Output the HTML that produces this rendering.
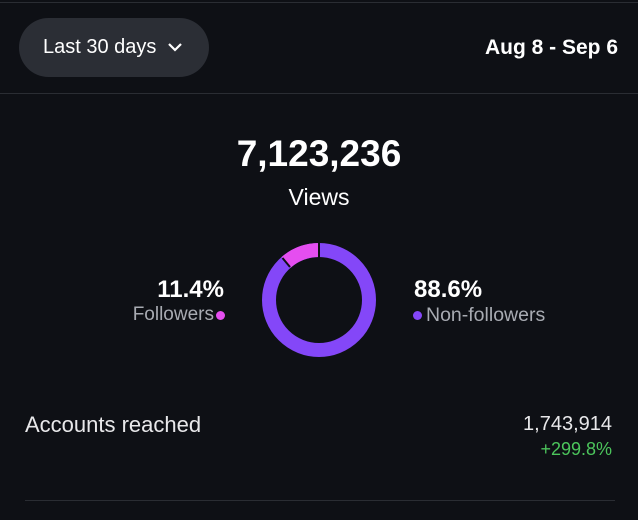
<!DOCTYPE html>
<html><head><style>
body{margin:0;width:638px;height:520px;background:#0e1015;font-family:"Liberation Sans",sans-serif;color:#fff;position:relative;overflow:hidden}
.a{position:absolute;white-space:nowrap}
</style></head><body>
<div class="a" style="left:0;top:2px;width:638px;height:1px;background:#2a2d33"></div>
<div class="a" style="left:19px;top:18px;width:190px;height:59px;border-radius:30px;background:#2b2e35"></div>
<div class="a" style="left:43px;top:36px;font-size:20px">Last 30 days</div>
<svg class="a" style="left:167px;top:42px" width="16" height="10"><path d="M2 2L8 8L14 2" stroke="#fff" stroke-width="2.2" fill="none"/></svg>
<div class="a" style="right:20px;top:36px;font-size:21px;font-weight:bold">Aug 8 - Sep 6</div>
<div class="a" style="left:0;top:93px;width:638px;height:1px;background:#2a2d33"></div>
<div class="a" style="left:0;width:638px;text-align:center;top:133px;font-size:37px;font-weight:bold">7,123,236</div>
<div class="a" style="left:0;width:638px;text-align:center;top:184px;font-size:23px">Views</div>
<div class="a" style="right:414px;top:276px;font-size:24px;font-weight:bold">11.4%</div>
<div class="a" style="right:424px;top:304px;font-size:19px;color:#a8abb2">Followers</div>
<div class="a" style="left:216px;top:311px;width:9px;height:9px;border-radius:50%;background:#e54ef0"></div>
<svg class="a" style="left:259px;top:240px" width="120" height="120">
<circle cx="60" cy="60" r="50" fill="none" stroke="#8447f8" stroke-width="14"/>
<path d="M60 10 A50 50 0 0 0 27.2 22.3" fill="none" stroke="#e54ef0" stroke-width="14"/>
<line x1="60" y1="2" x2="60" y2="18" stroke="#0e1015" stroke-width="2"/>
<line x1="23.5" y1="18" x2="31" y2="27" stroke="#0e1015" stroke-width="2"/>
</svg>
<div class="a" style="left:414px;top:276px;font-size:24px;font-weight:bold">88.6%</div>
<div class="a" style="left:413px;top:311px;width:9px;height:9px;border-radius:50%;background:#8447f8"></div>
<div class="a" style="left:426px;top:304px;font-size:19.5px;color:#a8abb2">Non-followers</div>
<div class="a" style="left:25px;top:412px;font-size:22px;color:#e8e8ea">Accounts reached</div>
<div class="a" style="right:26px;top:413px;font-size:20px;color:#e8e8ea">1,743,914</div>
<div class="a" style="right:26px;top:439px;font-size:18px;color:#4cc55c">+299.8%</div>
<div class="a" style="left:25px;top:500px;width:590px;height:1px;background:#2a2d33"></div>
</body></html>
